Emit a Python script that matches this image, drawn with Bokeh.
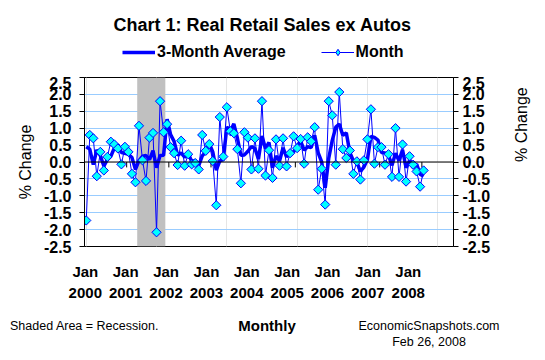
import numpy as np
from bokeh.plotting import figure
from bokeh.layouts import column
from bokeh.models import (Range1d, LinearAxis, FixedTicker, PrintfTickFormatter, Span,
                          Label, Legend, LegendItem, Grid, Div)
from bokeh.embed import file_html
from bokeh.resources import INLINE

# Monthly % change, Jan 2000 .. Jan 2008
monthly = [-1.73, 0.80, 0.70, -0.42, 0.30, -0.25, 0.15, 0.60, 0.52, 0.40, -0.07, 0.45,
           0.30, -0.35, -0.60, 1.07, 0.05, -0.56, 0.72, 0.86, -2.08, 1.80, 0.88, 1.12,
           0.44, 0.26, -0.09, 0.63, -0.11, 0.23, -0.07, -0.03, -0.22, 0.80, 0.33, 0.53,
           0.03, -1.28, 1.33, 0.16, 1.62, 0.91, 0.85, 0.38, -0.63, 0.88, 0.72, -0.22,
           0.70, -0.20, 1.80, -0.40, 0.35, -0.47, 0.67, -0.11, 0.70, -0.13, 0.26, 0.76,
           0.41, 0.68, -0.05, 0.73, 0.61, 1.03, -0.82, -0.20, -1.26, 1.80, 1.38, -0.08,
           2.07, 0.38, 0.12, 0.34, -0.35, 0.02, -0.52, 0.05, 0.67, 1.56, -0.05, 0.44,
           0.44, -0.08, 0.23, -0.44, 1.00, -0.44, 0.52, -0.58, 0.17, -0.08, -0.28, -0.73,
           -0.25]
# 3-month average
avg3 = [0.45, 0.38, -0.08, 0.36, 0.19, -0.12, 0.07, 0.17, 0.42, 0.51, 0.28, 0.26,
        0.23, 0.13, -0.22, 0.04, 0.17, 0.19, 0.07, 0.34, -0.17, 0.19, 0.20, 1.27,
        0.81, 0.61, 0.20, 0.27, 0.14, 0.25, 0.02, 0.04, -0.11, 0.18, 0.30, 0.55,
        0.30, -0.24, 0.03, 0.07, 1.04, 0.90, 1.13, 0.71, 0.20, 0.21, 0.32, 0.46,
        0.40, 0.09, 0.77, 0.40, 0.58, -0.17, 0.18, 0.03, 0.42, 0.15, 0.28, 0.30,
        0.48, 0.62, 0.35, 0.45, 0.43, 0.79, 0.27, 0.00, -0.76, 0.11, 0.64, 1.03,
        1.12, 0.79, 0.86, 0.28, 0.04, 0.00, -0.28, -0.15, 0.07, 0.76, 0.73, 0.65,
        0.28, 0.27, 0.20, -0.10, 0.26, 0.04, 0.36, -0.17, 0.04, -0.16, -0.06, -0.36,
        -0.42]
years = [2000, 2001, 2002, 2003, 2004, 2005, 2006, 2007, 2008]
month_label = "Jan"
recession_first_month = 15   # Apr 2001
recession_last_month = 22    # Nov 2001
y_ticks = [-2.5, -2.0, -1.5, -1.0, -0.5, 0.0, 0.5, 1.0, 1.5, 2.0, 2.5]
n_categories = 105

y_lo, y_hi = y_ticks[0], y_ticks[-1]
x = list(range(len(monthly)))
FONT = "Liberation Sans"
BLUE = "#0000FF"
CYAN = "#00FFFF"
W = 545
BL, BR = 84, 92          # left / right borders shared by all rows

# ---------------- header: title + legend ----------------
head = figure(width=W, height=76, output_backend="svg", toolbar_location=None,
              x_range=Range1d(BL, W - BR), y_range=Range1d(76, 0),
              x_axis_location=None, y_axis_location=None,
              min_border_left=BL, min_border_right=BR, min_border_top=0, min_border_bottom=0)
head.outline_line_color = None
head.grid.visible = False
head.add_layout(Label(x=262, y=24, text="Chart 1: Real Retail Sales ex Autos",
                      text_font=FONT, text_font_size="18px", text_font_style="bold",
                      text_align="center", text_baseline="middle", text_color="black"))
nan = [np.nan]
h_avg = head.line(x=nan, y=nan, line_color=BLUE, line_width=3.5)
h_ml = head.line(x=nan, y=nan, line_color=BLUE, line_width=1)
h_mk = head.scatter(x=nan, y=nan, marker="diamond", size=10, fill_color=CYAN,
                    line_color=BLUE, line_width=1)
legend = Legend(items=[LegendItem(label="3-Month Average", renderers=[h_avg]),
                       LegendItem(label="Month", renderers=[h_ml, h_mk])],
                orientation="horizontal", location=(122 - BL, 15),
                label_text_font=FONT, label_text_font_style="bold", label_text_font_size="16px",
                label_text_color="black",
                glyph_width=33, glyph_height=16, spacing=35, label_standoff=2,
                border_line_color=None, background_fill_alpha=0, padding=0, margin=0)
head.add_layout(legend, "center")

# ---------------- main chart ----------------
p = figure(width=W, height=228, output_backend="svg", toolbar_location=None,
           x_range=Range1d(-0.5, n_categories - 0.5), y_range=Range1d(y_lo, y_hi),
           x_axis_location=None, y_axis_location=None,
           min_border_left=BL, min_border_right=BR, min_border_top=1, min_border_bottom=58)
p.outline_line_color = "black"
p.outline_line_width = 1

p.add_layout(Grid(dimension=1, ticker=FixedTicker(ticks=[t for t in y_ticks if t != 0]),
                  grid_line_color="#99CCFF", grid_line_width=1))

# recession shading
p.quad(left=[recession_first_month - 0.5], right=[recession_last_month + 0.5],
       bottom=[y_lo], top=[y_hi], fill_color="#C0C0C0", line_color=None)

# zero line + year ticks
p.add_layout(Span(location=0, dimension="width", line_color="black", line_width=1))
bounds = [12 * k - 0.5 for k in range(1, n_categories // 12 + 1)]
p.segment(x0=bounds, x1=bounds, y0=[0] * len(bounds), y1=[-0.16] * len(bounds),
          line_color="black", line_width=1)

p.line(x, avg3, line_color=BLUE, line_width=3.5)
p.line(x, monthly, line_color=BLUE, line_width=1)
p.scatter(x, monthly, marker="square", angle=np.pi / 4, size=6.5,
          fill_color=CYAN, line_color=BLUE, line_width=1)

fmt = PrintfTickFormatter(format="%.1f")
for side in ("left", "right"):
    ax = LinearAxis(ticker=FixedTicker(ticks=y_ticks), formatter=fmt, axis_label="% Change")
    ax.major_label_text_font = FONT
    ax.major_label_text_font_style = "bold"
    ax.major_label_text_font_size = "16px"
    ax.major_label_text_color = "black"
    ax.axis_label_text_font = FONT
    ax.axis_label_text_font_style = "normal"
    ax.axis_label_text_font_size = "16px"
    ax.axis_label_text_color = "black"
    ax.minor_tick_line_color = None
    ax.major_tick_in = 0
    ax.major_tick_out = 5
    ax.axis_line_color = "black"
    ax.major_tick_line_color = "black"
    ax.major_label_standoff = 8 if side == "left" else 4
    ax.axis_label_standoff = 7 if side == "left" else 28
    if side == "right" and hasattr(ax, "axis_label_orientation"):
        ax.axis_label_orientation = np.pi / 2
    p.add_layout(ax, side)

p.extra_x_ranges = {"yr": Range1d(years[0] - 0.02, years[0] + 9.12)}
ax_m = LinearAxis(x_range_name="yr", ticker=FixedTicker(ticks=years),
                  major_label_overrides={y: month_label for y in years})
ax_y = LinearAxis(x_range_name="yr", ticker=FixedTicker(ticks=years),
                  major_label_overrides={y: str(y) for y in years})
for ax, so in ((ax_m, 16), (ax_y, 5)):
    ax.axis_line_color = None
    ax.major_tick_line_color = None
    ax.minor_tick_line_color = None
    ax.major_tick_out = 0
    ax.major_tick_in = 0
    ax.major_label_standoff = so
    ax.major_label_text_font = FONT
    ax.major_label_text_font_style = "bold"
    ax.major_label_text_font_size = "15px"
    ax.major_label_text_color = "black"
    p.add_layout(ax, "below")

# ---------------- footer (plain text) ----------------
def span(text, left, top, size, bold=False, center=False):
    tr = "transform:translateX(-50%);" if center else ""
    fw = "bold" if bold else "normal"
    return (f'<span style="position:absolute;left:{left}px;top:{top}px;{tr}'
            f'font-size:{size}px;font-weight:{fw};white-space:nowrap;line-height:1">{text}</span>')

footer_html = (f'<div style="position:relative;width:{W}px;height:56px;'
               f'font-family:\'{FONT}\',Arial,sans-serif;color:black">'
               + span("Shaded Area = Recession.", 10, 16, 12.5)
               + span("Monthly", 267, 14, 15, bold=True, center=True)
               + span("EconomicSnapshots.com", 429, 16, 12.5, center=True)
               + span("Feb 26, 2008", 429, 32, 12.5, center=True)
               + '</div>')
foot = Div(text=footer_html, width=W, height=56, margin=(0, 0, 0, 0))

layout = column(head, p, foot, spacing=0)
open("out.html", "w").write(file_html(layout, INLINE))
